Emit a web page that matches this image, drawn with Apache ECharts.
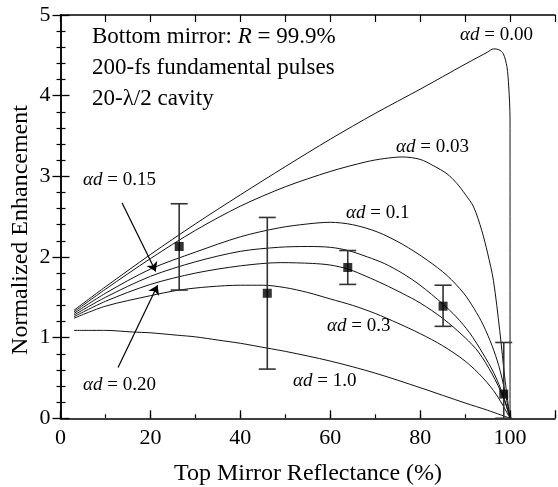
<!DOCTYPE html>
<html><head><meta charset="utf-8">
<script src="https://cdn.jsdelivr.net/npm/echarts@6/dist/echarts.min.js"></script>
<style>html,body{margin:0;padding:0;background:#fff}#c{width:558px;height:487px}</style>
</head><body><div id="c"></div>
<script>
// ---- data ----
const curve_000 = [[3,1.34],[10,1.63],[20,2.03],[30,2.41],[40,2.77],[50,3.12],[60,3.46],[70,3.78],[80,4.08],[90,4.39],[93,4.48],[95,4.54],[96.3,4.58],[97.5,4.57],[98.5,4.52],[99.3,4.36],[99.7,4.12],[100,3.7],[100,0]];
const curve_003 = [[3,1.32],[10,1.60],[20,1.98],[30,2.33],[40,2.63],[50,2.87],[60,3.06],[68,3.18],[72,3.22],[76,3.24],[80,3.21],[83,3.13],[86,3.03],[88.2,2.91],[90,2.78],[91.9,2.62],[93.7,2.33],[95,2.05],[96.3,1.71],[97.7,1.09],[98.9,0.47],[100,0]];
const curve_010 = [[3,1.30],[10,1.55],[20,1.85],[30,2.06],[40,2.25],[48.5,2.36],[55,2.41],[60,2.43],[65,2.40],[70.5,2.31],[76,2.16],[81.6,1.96],[86,1.77],[89.7,1.55],[92,1.36],[94,1.16],[96,0.90],[97.5,0.65],[98.8,0.35],[100,0]];
const curve_015 = [[3,1.28],[10,1.50],[20,1.76],[30,1.94],[40,2.07],[48.5,2.12],[55,2.13],[60,2.12],[64,2.08],[68.3,2.00],[72,1.92],[76,1.80],[80,1.65],[85,1.42],[88,1.26],[91,1.06],[94,0.80],[96.5,0.55],[98.5,0.28],[100,0]];
const curve_020 = [[3,1.26],[10,1.45],[20,1.66],[30,1.80],[40,1.89],[49,1.93],[56,1.92],[60,1.90],[64,1.85],[68,1.76],[72,1.66],[76,1.55],[80,1.43],[85,1.24],[90,1.00],[93,0.82],[96,0.55],[98.5,0.26],[100,0]];
const curve_030 = [[3,1.24],[10,1.39],[20,1.52],[26.4,1.59],[33,1.63],[40,1.65],[45,1.65],[50,1.62],[55,1.56],[60,1.48],[65,1.40],[70,1.30],[75,1.18],[80,1.05],[85,0.90],[90,0.71],[94,0.50],[97,0.29],[100,0]];
const curve_100 = [[3,1.09],[10,1.09],[16,1.07],[20,1.06],[26,1.03],[30,1.01],[35,0.97],[40,0.93],[46,0.87],[50,0.83],[60,0.71],[70,0.56],[80,0.38],[90,0.19],[95,0.10],[100,0]];

const expX   = [26.4, 46.0, 63.9, 85.1, 98.6];
const expY   = [2.13, 1.55, 1.87, 1.39, 0.30];
const errLow = [1.59, 0.61, 1.66, 1.14, 0.00];
const errHigh= [2.66, 2.49, 2.08, 1.65, 0.94];

const xTicks = [0, 20, 40, 60, 80, 100];
const yTicks = [0, 1, 2, 3, 4, 5];

// ---- chart ----
const FONT = "'Liberation Serif','Times New Roman',serif";
const chart = echarts.init(document.getElementById('c'), null, {renderer:'canvas'});
const frame = {show:true, lineStyle:{color:'#000', width:1.5}};
const lineSeries = (name, data) => ({
  name, type:'line', data, showSymbol:false, smooth:0.3, silent:true,
  lineStyle:{color:'#111', width:1}, z:2
});
const errData = expX.map((x,i)=>[x, expY[i], errLow[i], errHigh[i]]);

chart.setOption({
  animation:false,
  backgroundColor:'#fff',
  grid:{left:60.5, top:15, width:497.5, height:403.3, containLabel:false},
  xAxis:[
    {type:'value', min:0, max:110, interval:20, position:'bottom',
     axisLine:frame, axisTick:{show:true, inside:true, length:8, lineStyle:{color:'#000', width:1.3}},
     axisLabel:{fontFamily:FONT, fontSize:22, color:'#000', margin:9,
       formatter:v=> xTicks.indexOf(v)>=0 ? String(v) : ''},
     splitLine:{show:false}},
    {type:'value', min:0, max:110, interval:10, position:'bottom',
     axisLine:{show:false}, axisTick:{show:true, inside:true, length:4, lineStyle:{color:'#000', width:1.2}},
     axisLabel:{show:false}, splitLine:{show:false}},
    {type:'value', min:0, max:110, interval:10, position:'top',
     axisLine:frame, axisTick:{show:true, inside:true, length:7, lineStyle:{color:'#000', width:1.2}},
     axisLabel:{show:false}, splitLine:{show:false}}
  ],
  yAxis:[
    {type:'value', min:0, max:5, interval:1, position:'left',
     axisLine:frame, axisTick:{show:true, inside:true, length:9, lineStyle:{color:'#000', width:1.3}},
     minorTick:{show:true, splitNumber:5, length:5, lineStyle:{color:'#000', width:1.2}},
     axisLabel:{fontFamily:FONT, fontSize:22, color:'#000', margin:10,
       formatter:v=> yTicks.indexOf(v)>=0 ? String(v) : ''},
     splitLine:{show:false}, minorSplitLine:{show:false}},
    {type:'value', min:0, max:5, interval:1, position:'right',
     axisLine:frame, axisTick:{show:true, inside:true, length:8, lineStyle:{color:'#000', width:1.3}},
     minorTick:{show:true, splitNumber:5, length:4, lineStyle:{color:'#000', width:1.2}},
     axisLabel:{show:false}, splitLine:{show:false}, minorSplitLine:{show:false}}
  ],
  series:[
    lineSeries('0.00', curve_000),
    lineSeries('0.03', curve_003),
    lineSeries('0.1', curve_010),
    lineSeries('0.15', curve_015),
    lineSeries('0.20', curve_020),
    lineSeries('0.3', curve_030),
    Object.assign(lineSeries('1.0', curve_100), {
      markLine:{silent:true, symbol:['none','arrow'], symbolSize:9,
        label:{show:false}, lineStyle:{color:'#000', width:1.2, type:'solid'},
        data:[
          [{coord:[13.7,2.67]},{coord:[21.2,1.82]}],
          [{coord:[12.8,0.63]},{coord:[21.6,1.65]}]
        ]}
    }),
    {type:'custom', data:errData, silent:true, z:3,
     renderItem:(params, api)=>{
       const c = api.coord([api.value(0), api.value(1)]);
       const lo = api.coord([api.value(0), api.value(2)]);
       const hi = api.coord([api.value(0), api.value(3)]);
       const hw = 8.5;
       const st = {stroke:'#333', lineWidth:1.6};
       return {type:'group', children:[
         {type:'line', shape:{x1:c[0], y1:lo[1], x2:c[0], y2:hi[1]}, style:st},
         {type:'line', shape:{x1:c[0]-hw, y1:hi[1], x2:c[0]+hw, y2:hi[1]}, style:st},
         {type:'line', shape:{x1:c[0]-hw, y1:lo[1], x2:c[0]+hw, y2:lo[1]}, style:st}
       ]};
     }},
    {type:'scatter', data:expX.map((x,i)=>[x, expY[i]]), symbol:'rect', symbolSize:9,
     itemStyle:{color:'#000'}, silent:true, z:4}
  ],
  graphic:[
    {type:'text', left:null, x:92, y:37, style:{text:'Bottom mirror: {i|R} = 99.9%', font:'23px '+FONT, fill:'#000', verticalAlign:'middle',
      rich:{i:{fontStyle:'italic', fontSize:23, fontFamily:FONT}}}},
    {type:'text', x:92, y:68, style:{text:'200-fs fundamental pulses', font:'23px '+FONT, fill:'#000', verticalAlign:'middle'}},
    {type:'text', x:92, y:99, style:{text:'20-λ/2 cavity', font:'23px '+FONT, fill:'#000', verticalAlign:'middle'}},
    {type:'text', x:460, y:35, style:{text:'{i|αd} = 0.00', font:'19px '+FONT, fill:'#000', verticalAlign:'middle', rich:{i:{fontStyle:'italic', fontSize:19, fontFamily:FONT}}}},
    {type:'text', x:396, y:147, style:{text:'{i|αd} = 0.03', font:'19px '+FONT, fill:'#000', verticalAlign:'middle', rich:{i:{fontStyle:'italic', fontSize:19, fontFamily:FONT}}}},
    {type:'text', x:346, y:213, style:{text:'{i|αd} = 0.1', font:'19px '+FONT, fill:'#000', verticalAlign:'middle', rich:{i:{fontStyle:'italic', fontSize:19, fontFamily:FONT}}}},
    {type:'text', x:83, y:180, style:{text:'{i|αd} = 0.15', font:'19px '+FONT, fill:'#000', verticalAlign:'middle', rich:{i:{fontStyle:'italic', fontSize:19, fontFamily:FONT}}}},
    {type:'text', x:83, y:385, style:{text:'{i|αd} = 0.20', font:'19px '+FONT, fill:'#000', verticalAlign:'middle', rich:{i:{fontStyle:'italic', fontSize:19, fontFamily:FONT}}}},
    {type:'text', x:327, y:326, style:{text:'{i|αd} = 0.3', font:'19px '+FONT, fill:'#000', verticalAlign:'middle', rich:{i:{fontStyle:'italic', fontSize:19, fontFamily:FONT}}}},
    {type:'text', x:293, y:381, style:{text:'{i|αd} = 1.0', font:'19px '+FONT, fill:'#000', verticalAlign:'middle', rich:{i:{fontStyle:'italic', fontSize:19, fontFamily:FONT}}}},
    {type:'text', x:308, y:474, style:{text:'Top Mirror Reflectance (%)', font:'24px '+FONT, fill:'#000', align:'center', verticalAlign:'middle'}},
    {type:'text', x:21, y:230, rotation:Math.PI/2, style:{text:'Normalized Enhancement', font:'24px '+FONT, fill:'#000', align:'center', verticalAlign:'middle'}}
  ]
});
</script></body></html>
